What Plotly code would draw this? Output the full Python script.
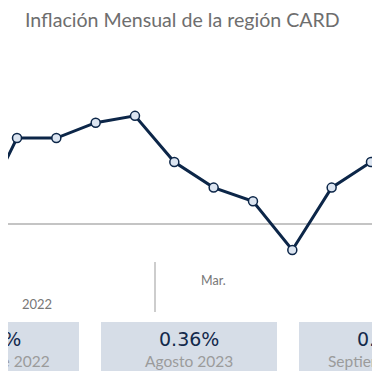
import plotly.graph_objects as go

# Data (monthly inflation, %), index positions of months
month_idx = [-1, 0, 1, 2, 3, 4, 5, 6, 7, 8, 9, 10]
inflation = [0.03, 0.50, 0.50, 0.59, 0.63, 0.36, 0.21, 0.13, -0.155, 0.21, 0.36, 0.46]

month_tick_idx = [5]
month_tick_labels = ["Mar."]
year_label_idx = [0.5]
year_labels = ["2022"]

card_values = ["0.45%", "0.36%", "0.38%"]
card_labels = ["Septiembre 2022", "Agosto 2023", "Septiembre 2023"]

OFF = 8          # page body margin
W = H = 380 - OFF
NAVY = "#0c2648"

def px_x(p):
    return (p - OFF) / W

def px_y(p):
    return 1 - (p - OFF) / H

fig = go.Figure()
fig.add_trace(go.Scatter(
    x=month_idx, y=inflation, mode="lines+markers",
    line=dict(color=NAVY, width=3),
    marker=dict(size=9, color="#dce5f1", line=dict(color=NAVY, width=1.5)),
    hoverinfo="skip", showlegend=False,
))

step = 39.33
x0 = (OFF - 17) / step
x1 = (380 - 17) / step
k = 0.36 / 61.5
fig.update_xaxes(range=[x0, x1], visible=False)
fig.update_yaxes(range=[-(380 - 223.5) * k, (223.5 - OFF) * k], showgrid=False,
                 showticklabels=False, zeroline=True, zerolinecolor="#c4c4c4",
                 zerolinewidth=1.5)

shapes = []
shapes.append(dict(type="line", xref="paper", yref="paper",
                   x0=px_x(155), x1=px_x(155), y0=px_y(262), y1=px_y(312),
                   line=dict(color="#bdbdbd", width=1.5)))
card_x = [(-97, 79), (101, 277), (299, 475)]
for (a, b) in card_x:
    shapes.append(dict(type="rect", xref="paper", yref="paper",
                       x0=px_x(a), x1=px_x(b), y0=px_y(371), y1=px_y(322),
                       fillcolor="#d6dde7", line=dict(width=0), layer="below"))

ann = []
ann.append(dict(text="Inflación Mensual de la región CARD", xref="paper", yref="paper",
                x=px_x(23), y=px_y(20), xanchor="left", yanchor="middle",
                showarrow=False, font=dict(family="Lato", size=19.6, color="#6e6e6e")))
for i, lab in zip(month_tick_idx, month_tick_labels):
    ann.append(dict(text=lab, xref="x", yref="paper", x=i, y=px_y(280),
                    xanchor="center", yanchor="middle", showarrow=False,
                    font=dict(family="Lato", size=12.5, color="#777777")))
for i, lab in zip(year_label_idx, year_labels):
    ann.append(dict(text=lab, xref="x", yref="paper", x=i, y=px_y(304),
                    xanchor="center", yanchor="middle", showarrow=False,
                    font=dict(family="Lato", size=13, color="#777777")))
for (a, b), v, lab in zip(card_x, card_values, card_labels):
    c = (a + b) / 2
    ann.append(dict(text=v, xref="paper", yref="paper", x=px_x(c), y=px_y(339),
                    xanchor="center", yanchor="middle", showarrow=False,
                    font=dict(family="DejaVu Sans", size=19, color="#13294b")))
    ann.append(dict(text=lab, xref="paper", yref="paper", x=px_x(c), y=px_y(361),
                    xanchor="center", yanchor="middle", showarrow=False,
                    font=dict(family="Lato", size=15.5, color="#9b9b9b")))

fig.update_layout(width=W, height=H, margin=dict(l=0, r=0, t=0, b=0),
                  paper_bgcolor="white", plot_bgcolor="white",
                  shapes=shapes, annotations=ann)

fig.write_html("out.html")
